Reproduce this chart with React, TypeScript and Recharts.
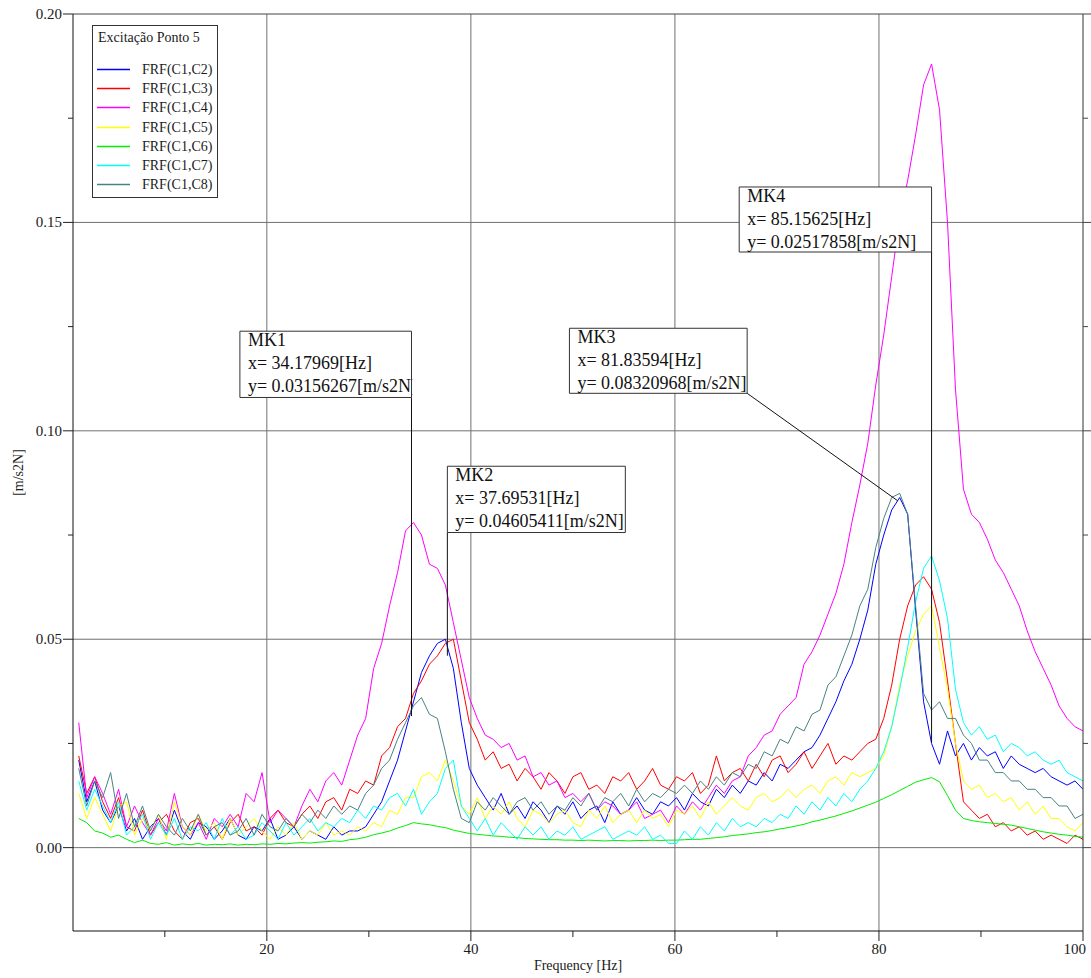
import React from 'react';
import {
  LineChart,
  Line,
  XAxis,
  YAxis,
  ReferenceLine,
  ReferenceArea,
  Legend,
} from 'recharts';

const SERIF = "'Liberation Serif', 'Times New Roman', Times, serif";
const INK = '#1a1a1a';

// Spectral lines: every second FFT bin (bin width 0.390625 Hz), 1.5625 .. 100 Hz
const BIN_HZ = 0.390625;
const frequency: number[] = Array.from({ length: 127 }, (_, i) => (2 * i + 4) * BIN_HZ);

// FRF magnitudes [m/s2N], excitation at point 5
const frfC1C2 = [
  0.021, 0.011, 0.016, 0.009, 0.006, 0.010, 0.004, 0.007, 0.002, 0.005,
  0.007, 0.003, 0.009, 0.004, 0.002, 0.006, 0.005, 0.002, 0.004, 0.007,
  0.003, 0.002, 0.005, 0.004, 0.007, 0.002, 0.003, 0.005, 0.002, 0.004,
  0.003, 0.002, 0.005, 0.003, 0.004, 0.004, 0.005, 0.008, 0.011, 0.016,
  0.021, 0.028, 0.035, 0.042, 0.046, 0.049, 0.050, 0.043, 0.030, 0.019,
  0.015, 0.012, 0.009, 0.013, 0.008, 0.010, 0.007, 0.011, 0.009, 0.006,
  0.010, 0.008, 0.011, 0.007, 0.009, 0.010, 0.006, 0.011, 0.008, 0.009,
  0.012, 0.009, 0.008, 0.011, 0.010, 0.012, 0.009, 0.013, 0.011, 0.010,
  0.014, 0.012, 0.015, 0.013, 0.016, 0.015, 0.018, 0.016, 0.020, 0.019,
  0.021, 0.023, 0.024, 0.027, 0.031, 0.035, 0.040, 0.044, 0.050, 0.057,
  0.068, 0.075, 0.081, 0.084, 0.080, 0.057, 0.035, 0.025, 0.020, 0.028,
  0.022, 0.025, 0.021, 0.024, 0.022, 0.023, 0.019, 0.022, 0.020, 0.019,
  0.018, 0.019, 0.017, 0.016, 0.015, 0.016, 0.014,
];

const frfC1C3 = [
  0.022, 0.013, 0.017, 0.011, 0.007, 0.012, 0.005, 0.004, 0.009, 0.003,
  0.006, 0.008, 0.004, 0.002, 0.006, 0.007, 0.003, 0.005, 0.002, 0.006,
  0.008, 0.004, 0.005, 0.003, 0.007, 0.009, 0.006, 0.005, 0.008, 0.010,
  0.007, 0.011, 0.012, 0.009, 0.014, 0.013, 0.016, 0.015, 0.022, 0.024,
  0.029, 0.031, 0.037, 0.040, 0.044, 0.046, 0.049, 0.050, 0.040, 0.030,
  0.026, 0.021, 0.023, 0.019, 0.020, 0.016, 0.019, 0.017, 0.014, 0.018,
  0.016, 0.013, 0.017, 0.018, 0.014, 0.015, 0.013, 0.017, 0.016, 0.018,
  0.014, 0.016, 0.019, 0.015, 0.014, 0.017, 0.016, 0.018, 0.013, 0.015,
  0.022, 0.016, 0.018, 0.019, 0.016, 0.020, 0.017, 0.021, 0.022, 0.018,
  0.020, 0.023, 0.019, 0.022, 0.025, 0.020, 0.022, 0.021, 0.023, 0.025,
  0.026, 0.031, 0.039, 0.050, 0.058, 0.063, 0.065, 0.062, 0.054, 0.040,
  0.025, 0.011, 0.009, 0.007, 0.008, 0.005, 0.006, 0.004, 0.005, 0.003,
  0.004, 0.002, 0.003, 0.002, 0.001, 0.003, 0.002,
];

const frfC1C4 = [
  0.030, 0.012, 0.017, 0.013, 0.008, 0.014, 0.005, 0.010, 0.006, 0.003,
  0.007, 0.004, 0.013, 0.005, 0.003, 0.006, 0.002, 0.007, 0.005, 0.008,
  0.005, 0.013, 0.011, 0.018, 0.006, 0.009, 0.007, 0.005, 0.010, 0.014,
  0.011, 0.016, 0.018, 0.015, 0.021, 0.027, 0.031, 0.043, 0.049, 0.058,
  0.066, 0.076, 0.078, 0.075, 0.068, 0.067, 0.063, 0.054, 0.045, 0.036,
  0.031, 0.027, 0.026, 0.024, 0.025, 0.021, 0.022, 0.017, 0.018, 0.015,
  0.016, 0.012, 0.013, 0.011, 0.013, 0.009, 0.011, 0.010, 0.008, 0.009,
  0.011, 0.007, 0.008, 0.009, 0.006, 0.010, 0.008, 0.011, 0.009, 0.012,
  0.015, 0.013, 0.016, 0.017, 0.022, 0.024, 0.027, 0.028, 0.032, 0.034,
  0.036, 0.044, 0.047, 0.051, 0.056, 0.061, 0.068, 0.078, 0.087, 0.097,
  0.111, 0.123, 0.137, 0.151, 0.160, 0.171, 0.183, 0.188, 0.177, 0.150,
  0.110, 0.086, 0.080, 0.078, 0.074, 0.069, 0.066, 0.062, 0.058, 0.052,
  0.047, 0.043, 0.039, 0.034, 0.031, 0.029, 0.028,
];

const frfC1C5 = [
  0.013, 0.007, 0.012, 0.008, 0.004, 0.010, 0.011, 0.003, 0.007, 0.004,
  0.008, 0.002, 0.011, 0.005, 0.003, 0.008, 0.004, 0.006, 0.002, 0.007,
  0.003, 0.005, 0.007, 0.004, 0.002, 0.005, 0.003, 0.006, 0.002, 0.004,
  0.003, 0.006, 0.003, 0.004, 0.003, 0.005, 0.004, 0.006, 0.005, 0.009,
  0.008, 0.012, 0.012, 0.017, 0.018, 0.016, 0.021, 0.016, 0.010, 0.008,
  0.012, 0.007, 0.010, 0.008, 0.011, 0.007, 0.005, 0.009, 0.008, 0.006,
  0.008, 0.009, 0.006, 0.005, 0.009, 0.007, 0.010, 0.006, 0.008, 0.009,
  0.006, 0.009, 0.007, 0.008, 0.005, 0.009, 0.008, 0.010, 0.007, 0.011,
  0.008, 0.010, 0.012, 0.010, 0.009, 0.012, 0.013, 0.011, 0.012, 0.014,
  0.012, 0.014, 0.015, 0.013, 0.016, 0.017, 0.015, 0.018, 0.017, 0.018,
  0.019, 0.022, 0.029, 0.039, 0.046, 0.052, 0.056, 0.058, 0.048, 0.038,
  0.025, 0.016, 0.014, 0.015, 0.012, 0.013, 0.011, 0.012, 0.009, 0.011,
  0.008, 0.010, 0.007, 0.007, 0.005, 0.004, 0.006,
];

const frfC1C6 = [
  0.0070, 0.0060, 0.0040, 0.0035, 0.0025, 0.0030, 0.0020, 0.0012, 0.0018, 0.0010,
  0.0008, 0.0012, 0.0006, 0.0009, 0.0007, 0.0010, 0.0006, 0.0008, 0.0007, 0.0009,
  0.0006, 0.0008, 0.0007, 0.0009, 0.0008, 0.0010, 0.0009, 0.0011, 0.0012, 0.0011,
  0.0013, 0.0014, 0.0016, 0.0015, 0.0019, 0.0021, 0.0025, 0.0031, 0.0035, 0.0040,
  0.0047, 0.0053, 0.0060, 0.0057, 0.0055, 0.0051, 0.0048, 0.0042, 0.0038, 0.0034,
  0.0032, 0.0030, 0.0028, 0.0027, 0.0025, 0.0024, 0.0022, 0.0021, 0.0020, 0.0019,
  0.0019, 0.0018, 0.0018, 0.0017, 0.0018, 0.0017, 0.0016, 0.0017, 0.0017, 0.0016,
  0.0017, 0.0017, 0.0018, 0.0017, 0.0018, 0.0018, 0.0019, 0.0020, 0.0020, 0.0022,
  0.0024, 0.0026, 0.0029, 0.0031, 0.0033, 0.0036, 0.0038, 0.0041, 0.0045, 0.0048,
  0.0052, 0.0056, 0.0062, 0.0066, 0.0071, 0.0076, 0.0082, 0.0088, 0.0095, 0.0102,
  0.0109, 0.0118, 0.0127, 0.0137, 0.0147, 0.0157, 0.0163, 0.0168, 0.0158, 0.0125,
  0.0090, 0.0070, 0.0065, 0.0062, 0.0060, 0.0058, 0.0056, 0.0054, 0.0050, 0.0046,
  0.0042, 0.0038, 0.0035, 0.0032, 0.0030, 0.0027, 0.0025,
];

const frfC1C7 = [
  0.016, 0.009, 0.014, 0.010, 0.006, 0.011, 0.003, 0.005, 0.008, 0.002,
  0.006, 0.003, 0.007, 0.002, 0.005, 0.004, 0.006, 0.002, 0.007, 0.003,
  0.005, 0.002, 0.003, 0.006, 0.004, 0.002, 0.006, 0.003, 0.005, 0.007,
  0.004, 0.006, 0.005, 0.007, 0.006, 0.009, 0.007, 0.010, 0.009, 0.012,
  0.013, 0.010, 0.014, 0.008, 0.011, 0.013, 0.019, 0.021, 0.010, 0.007,
  0.004, 0.007, 0.003, 0.006, 0.004, 0.002, 0.005, 0.003, 0.005, 0.002,
  0.004, 0.003, 0.005, 0.002, 0.003, 0.004, 0.005, 0.002, 0.003, 0.004,
  0.003, 0.005, 0.002, 0.003, 0.001, 0.001, 0.004, 0.002, 0.005, 0.003,
  0.006, 0.004, 0.007, 0.005, 0.006, 0.005, 0.007, 0.006, 0.008, 0.007,
  0.010, 0.008, 0.011, 0.009, 0.012, 0.010, 0.013, 0.011, 0.014, 0.016,
  0.019, 0.023, 0.029, 0.038, 0.048, 0.059, 0.067, 0.070, 0.064, 0.055,
  0.038, 0.030, 0.027, 0.029, 0.026, 0.027, 0.023, 0.025, 0.024, 0.022,
  0.023, 0.021, 0.020, 0.021, 0.018, 0.017, 0.016,
];

const frfC1C8 = [
  0.019, 0.010, 0.016, 0.012, 0.018, 0.007, 0.013, 0.005, 0.010, 0.004,
  0.008, 0.005, 0.003, 0.007, 0.004, 0.008, 0.003, 0.005, 0.006, 0.003,
  0.004, 0.007, 0.003, 0.008, 0.005, 0.004, 0.007, 0.005, 0.008, 0.006,
  0.009, 0.007, 0.010, 0.008, 0.010, 0.009, 0.013, 0.015, 0.019, 0.021,
  0.026, 0.030, 0.034, 0.036, 0.032, 0.031, 0.023, 0.014, 0.007, 0.006,
  0.011, 0.009, 0.012, 0.010, 0.008, 0.011, 0.012, 0.009, 0.011, 0.008,
  0.010, 0.009, 0.012, 0.010, 0.013, 0.009, 0.012, 0.011, 0.013, 0.010,
  0.014, 0.011, 0.013, 0.012, 0.014, 0.013, 0.015, 0.013, 0.016, 0.014,
  0.017, 0.015, 0.018, 0.017, 0.020, 0.019, 0.023, 0.022, 0.026, 0.025,
  0.029, 0.028, 0.032, 0.033, 0.039, 0.041, 0.046, 0.051, 0.058, 0.062,
  0.072, 0.079, 0.084, 0.085, 0.080, 0.058, 0.037, 0.033, 0.035, 0.031,
  0.031, 0.027, 0.025, 0.021, 0.021, 0.018, 0.018, 0.016, 0.016, 0.014,
  0.014, 0.012, 0.012, 0.010, 0.010, 0.007, 0.008,
];

const seriesNames = ['FRF(C1,C2)', 'FRF(C1,C3)', 'FRF(C1,C4)', 'FRF(C1,C5)', 'FRF(C1,C6)', 'FRF(C1,C7)', 'FRF(C1,C8)'];
const seriesValues = [frfC1C2, frfC1C3, frfC1C4, frfC1C5, frfC1C6, frfC1C7, frfC1C8];
const seriesColors = ['#0000ff', '#ff0000', '#ff00ff', '#ffff00', '#00ee00', '#00ffff', '#4a8282'];

// Cursor markers
const markerNames = ['MK1', 'MK2', 'MK3', 'MK4'];
const markerFreq = [34.17969, 37.69531, 81.83594, 85.15625];
const markerValue = [0.03156267, 0.04605411, 0.08320968, 0.02517858];

// Readout boxes (data units) and leader-line start
const markerBoxes = [
  { f1: 17.36, f2: 34.17969, v1: 0.1080, v2: 0.1239, fromF: 34.17969, fromV: 0.1080 },
  { f1: 37.69531, f2: 55.14, v1: 0.0756, v2: 0.0915, fromF: 37.69531, fromV: 0.0756 },
  { f1: 49.66, f2: 67.08, v1: 0.1090, v2: 0.1246, fromF: 67.08, fromV: 0.1090 },
  { f1: 66.30, f2: 85.15625, v1: 0.1429, v2: 0.1585, fromF: 85.15625, fromV: 0.1429 },
];

const xTicks = [10, 20, 30, 40, 50, 60, 70, 80, 90, 100];
const yTicks = [0, 0.025, 0.05, 0.075, 0.1, 0.125, 0.15, 0.175, 0.2];
const xGrid = [20, 40, 60, 80];
const yGrid = [0, 0.05, 0.1, 0.15];

const rows = frequency.map((f, i) => {
  const row: Record<string, number> = { f };
  seriesValues.forEach((vals, s) => {
    row[`s${s}`] = vals[i];
  });
  return row;
});

const isMajorY = (v: number) => Math.abs(v / 0.05 - Math.round(v / 0.05)) < 1e-6;

const XTick = (p: any) => {
  const v = p.payload.value;
  const major = v % 20 === 0;
  const last = v === 100;
  return (
    <g>
      <line x1={p.x} x2={p.x} y1={p.y} y2={p.y + (major ? 10 : 6)} stroke="#222" />
      {major && (
        <text
          x={last ? p.x + 3 : p.x}
          y={p.y + 23}
          textAnchor={last ? 'end' : 'middle'}
          fontFamily={SERIF}
          fontSize={15}
          fill={INK}
        >
          {v}
        </text>
      )}
    </g>
  );
};

const YTickLeft = (p: any) => {
  const v = p.payload.value;
  const major = isMajorY(v);
  return (
    <g>
      <line x1={p.x - (major ? 10 : 5)} x2={p.x} y1={p.y} y2={p.y} stroke="#222" />
      {major && (
        <text x={p.x - 11} y={p.y + 5} textAnchor="end" fontFamily={SERIF} fontSize={15} fill={INK}>
          {v.toFixed(2)}
        </text>
      )}
    </g>
  );
};

const YTickRight = (p: any) => {
  const v = p.payload.value;
  const major = isMajorY(v);
  return <line x1={p.x} x2={p.x + (major ? 8 : 5)} y1={p.y} y2={p.y} stroke="#444" />;
};

const markerText = (k: number) => (props: any) => {
  const vb = props.viewBox || {};
  const x = vb.x ?? 0;
  const y = vb.y ?? 0;
  const w = vb.width ?? 0;
  const h = vb.height ?? 0;
  const clipId = `mk-clip-${k}`;
  const lines = [
    markerNames[k],
    `x= ${markerFreq[k].toFixed(5)}[Hz]`,
    `y= ${markerValue[k].toFixed(8)}[m/s2N]`,
  ];
  return (
    <g>
      <defs>
        <clipPath id={clipId}>
          <rect x={x} y={y} width={w + 1} height={h} />
        </clipPath>
      </defs>
      <text fontFamily={SERIF} fontSize={18} fill="#111" clipPath={`url(#${clipId})`}>
        {lines.map((t, i) => (
          <tspan key={i} x={x + 8} y={y + 15 + i * 23}>
            {t}
          </tspan>
        ))}
      </text>
    </g>
  );
};

const LegendBox = (props: any) => {
  const payload = props.payload || [];
  return (
    <div
      style={{
        position: 'relative',
        width: 126,
        height: 173,
        boxSizing: 'border-box',
        border: '1px solid #333',
        background: '#fff',
        fontFamily: SERIF,
        fontSize: 14,
        color: INK,
      }}
    >
      <div style={{ position: 'absolute', left: 5, top: 4, whiteSpace: 'nowrap' }}>Excitação Ponto 5</div>
      {payload.map((item: any, i: number) => {
        const idx = seriesNames.indexOf(item.value);
        const color = idx >= 0 ? seriesColors[idx] : item.color;
        return (
          <div
            key={item.value}
            style={{
              position: 'absolute',
              left: 4,
              top: 34 + Math.round(i * 19.2),
              width: 118,
              height: 19,
              lineHeight: '19px',
              whiteSpace: 'nowrap',
            }}
          >
            <svg width={34} height={19} style={{ position: 'absolute', left: 0, top: 0 }}>
              <line x1={0} x2={33} y1={9.5} y2={9.5} stroke={color} strokeWidth={1.4} />
            </svg>
            <span style={{ position: 'absolute', left: 45, top: 0 }}>{item.value}</span>
          </div>
        );
      })}
    </div>
  );
};

export default function App() {
  return (
    <div style={{ position: 'absolute', left: 0, top: 0, width: 1091, height: 978, background: '#fff' }}>
      <LineChart width={1091} height={978} data={rows} margin={{ top: 14, right: 0, bottom: 0, left: 0 }}>
        <XAxis
          dataKey="f"
          type="number"
          domain={[1, 100]}
          allowDataOverflow
          ticks={xTicks}
          interval={0}
          height={47}
          tickSize={0}
          tickMargin={0}
          tickLine={false}
          tick={XTick}
          axisLine={{ stroke: '#111' }}
          label={(p: any) => {
            const vb = p.viewBox || {};
            return (
              <text x={(vb.x ?? 0) + (vb.width ?? 0) / 2} y={(vb.y ?? 0) + 39} textAnchor="middle" fontFamily={SERIF} fontSize={14} fill={INK}>
                Frequency [Hz]
              </text>
            );
          }}
        />
        <YAxis
          yAxisId={0}
          type="number"
          domain={[-0.02, 0.2]}
          allowDataOverflow
          ticks={yTicks}
          interval={0}
          width={73}
          tickSize={0}
          tickMargin={0}
          tickLine={false}
          tick={YTickLeft}
          axisLine={{ stroke: '#111' }}
          label={(p: any) => {
            const vb = p.viewBox || {};
            const cx = (vb.x ?? 0) + 18;
            const cy = (vb.y ?? 0) + (vb.height ?? 0) / 2;
            return (
              <text x={cx} y={cy} transform={`rotate(-90 ${cx} ${cy})`} textAnchor="middle" dominantBaseline="central" fontFamily={SERIF} fontSize={14} fill={INK}>
                [m/s2N]
              </text>
            );
          }}
        />
        <YAxis
          yAxisId="right"
          orientation="right"
          type="number"
          domain={[-0.02, 0.2]}
          allowDataOverflow
          ticks={yTicks}
          interval={0}
          width={8}
          tickSize={0}
          tickMargin={0}
          tickLine={false}
          tick={YTickRight}
          axisLine={{ stroke: '#333' }}
        />

        {yGrid.map((v) => (
          <ReferenceLine key={`gy${v}`} y={v} stroke="#707070" strokeWidth={1} zIndex={-100} />
        ))}
        {xGrid.map((v) => (
          <ReferenceLine key={`gx${v}`} x={v} stroke="#707070" strokeWidth={1} zIndex={-100} />
        ))}
        <ReferenceLine y={0.2} stroke="#444" strokeWidth={1} zIndex={-100} />

        {seriesNames.map((name, s) => (
          <Line
            key={name}
            dataKey={`s${s}`}
            name={name}
            stroke={seriesColors[s]}
            strokeWidth={1}
            dot={false}
            activeDot={false}
            type="linear"
            legendType="line"
            isAnimationActive={false}
          />
        ))}

        {markerBoxes.map((b, k) => (
          <ReferenceLine
            key={`lead${k}`}
            segment={[
              { x: b.fromF, y: b.fromV },
              { x: markerFreq[k], y: markerValue[k] },
            ]}
            stroke="#111"
            strokeWidth={1}
            zIndex={1500}
          />
        ))}
        {markerBoxes.map((b, k) => (
          <ReferenceArea
            key={`box${k}`}
            x1={b.f1}
            x2={b.f2}
            y1={b.v1}
            y2={b.v2}
            fill="#ffffff"
            fillOpacity={1}
            stroke="#333"
            strokeWidth={1}
            zIndex={1600}
            label={markerText(k)}
          />
        ))}

        <Legend
          layout="vertical"
          align="center"
          verticalAlign="middle"
          wrapperStyle={{ left: 92, top: 25, width: 126, height: 173 }}
          content={LegendBox}
        />
      </LineChart>
    </div>
  );
}
